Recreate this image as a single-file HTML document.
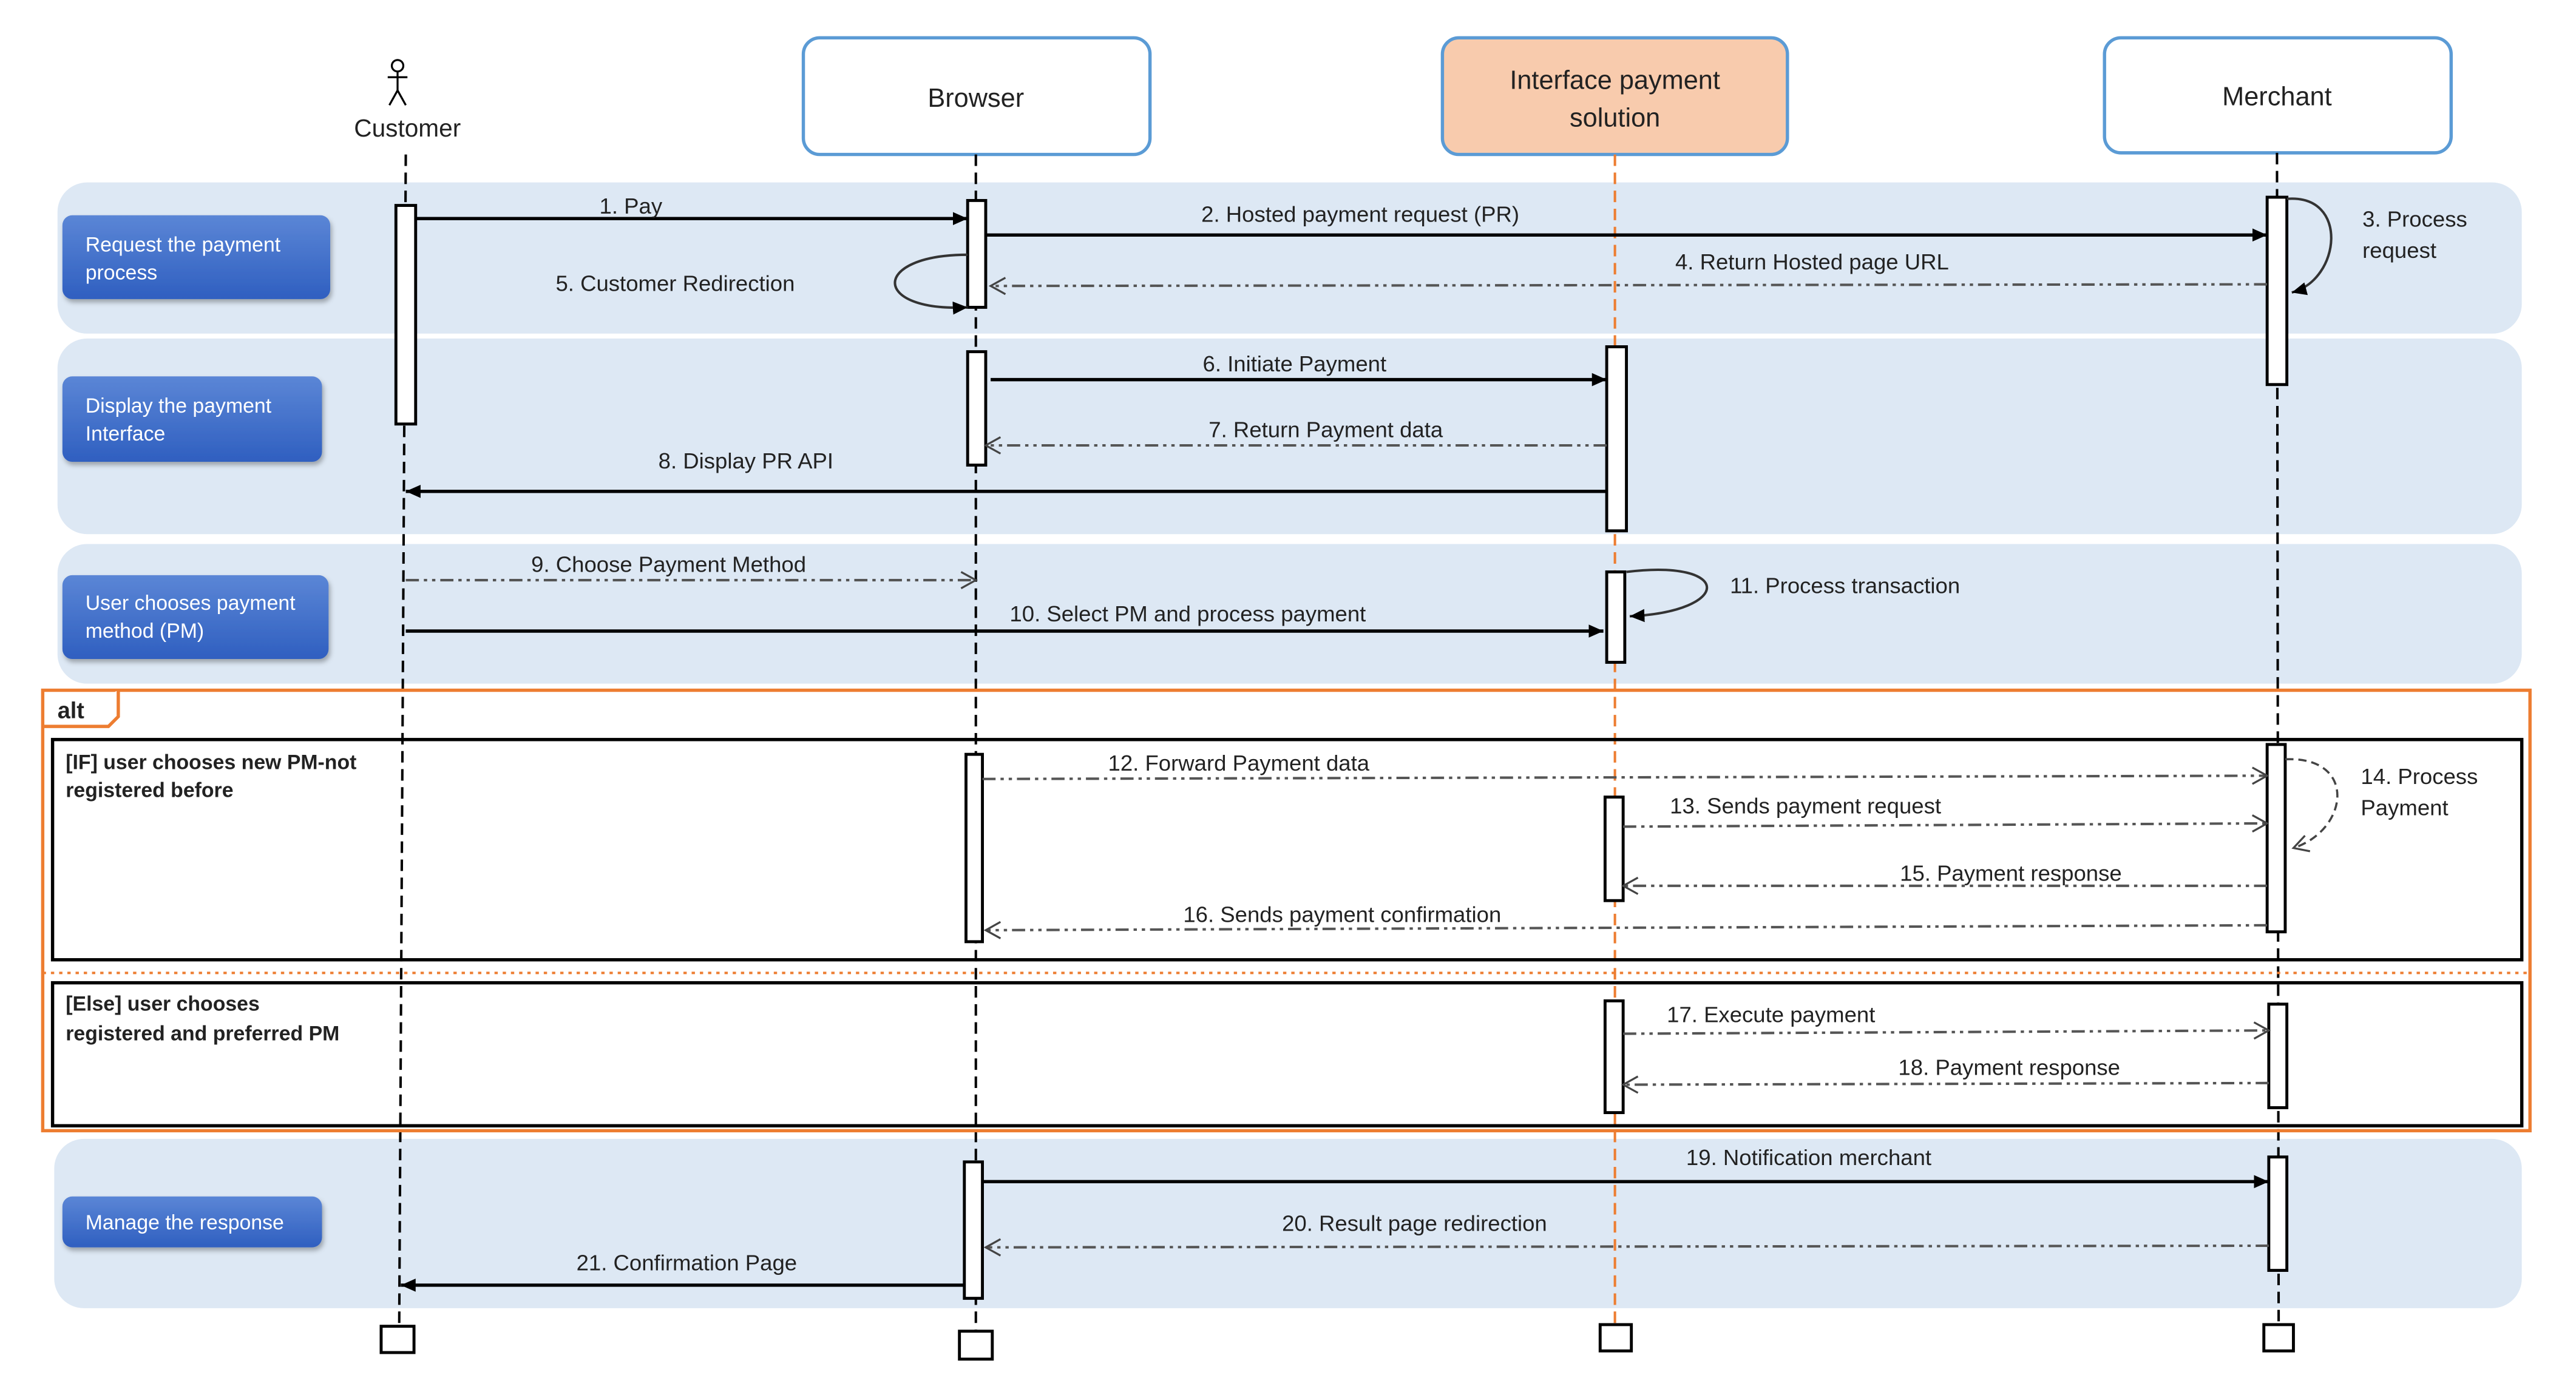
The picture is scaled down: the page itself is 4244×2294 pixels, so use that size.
<!DOCTYPE html>
<html><head><meta charset="utf-8"><style>
html,body{margin:0;padding:0;background:#fff;width:4244px;height:2294px;overflow:hidden}
svg{display:block}
text{font-family:"Liberation Sans",sans-serif;fill:#222}
</style></head><body>
<svg width="4244" height="2294" viewBox="0 0 1568 847" preserveAspectRatio="none" xmlns="http://www.w3.org/2000/svg">
<defs>
<marker id="fa" markerWidth="10" markerHeight="10" refX="9" refY="5" orient="auto" markerUnits="userSpaceOnUse"><path d="M0,1 L9,5 L0,9 z" fill="#000"/></marker>
<marker id="oa" markerWidth="12" markerHeight="12" refX="10" refY="6" orient="auto" markerUnits="userSpaceOnUse"><path d="M1,1 L10,6 L1,11" fill="none" stroke="#444" stroke-width="1.2"/></marker>
<linearGradient id="bg" x1="0" y1="0" x2="0" y2="1"><stop offset="0" stop-color="#5b86d6"/><stop offset="1" stop-color="#2f5fc0"/></linearGradient>
<filter id="sh" x="-10%" y="-10%" width="130%" height="140%"><feDropShadow dx="1" dy="2" stdDeviation="1.5" flood-color="#000" flood-opacity="0.3"/></filter>
</defs>
<g fill="#dde8f4">
<rect x="35" y="111" width="1500" height="92" rx="18"/>
<rect x="35" y="206" width="1500" height="119" rx="18"/>
<rect x="35" y="331" width="1500" height="85" rx="18"/>
<rect x="33" y="693" width="1502" height="103" rx="18"/>
</g>
<rect x="489" y="23" width="211" height="71" rx="10" fill="#fff" stroke="#5b9bd5" stroke-width="2"/>
<text x="594" y="65" font-size="16" text-anchor="middle">Browser</text>
<rect x="878" y="23" width="210" height="71" rx="10" fill="#f8cbad" stroke="#5b9bd5" stroke-width="2"/>
<text x="983" y="54" font-size="16" text-anchor="middle">Interface payment</text>
<text x="983" y="77" font-size="16" text-anchor="middle">solution</text>
<rect x="1281" y="23" width="211" height="70" rx="10" fill="#fff" stroke="#5b9bd5" stroke-width="2"/>
<text x="1386" y="64" font-size="16" text-anchor="middle">Merchant</text>
<g stroke="#000" stroke-width="1.2" fill="none">
<circle cx="242" cy="40" r="3.5"/><line x1="242" y1="43.5" x2="242" y2="55"/><line x1="236" y1="47" x2="248" y2="47"/><line x1="242" y1="55" x2="237" y2="64"/><line x1="242" y1="55" x2="247" y2="64"/>
</g>
<text x="248" y="83" font-size="15" text-anchor="middle">Customer</text>
<g stroke-width="1.5" stroke-dasharray="7,4">
<line x1="247" y1="94" x2="243" y2="807" stroke="#000"/>
<line x1="594" y1="94" x2="594" y2="810" stroke="#000"/>
<line x1="983" y1="94" x2="983" y2="806" stroke="#ed7d31"/>
<line x1="1386" y1="93" x2="1387" y2="806" stroke="#000"/>
</g>
<g filter="url(#sh)" fill="url(#bg)">
<rect x="38" y="131" width="163" height="51" rx="6"/>
<rect x="38" y="229" width="158" height="52" rx="6"/>
<rect x="38" y="350" width="162" height="51" rx="6"/>
<rect x="38" y="728" width="158" height="31" rx="6"/>
</g>
<g font-size="12.5">
<text x="52" y="153" style="fill:#fff">Request the payment</text><text x="52" y="170" style="fill:#fff">process</text>
<text x="52" y="251" style="fill:#fff">Display the payment</text><text x="52" y="268" style="fill:#fff">Interface</text>
<text x="52" y="371" style="fill:#fff">User chooses payment</text><text x="52" y="388" style="fill:#fff">method (PM)</text>
<text x="52" y="748" style="fill:#fff">Manage the response</text>
</g>
<rect x="26" y="420" width="1514" height="268" fill="none" stroke="#ed7d31" stroke-width="2"/>
<path d="M26,442 L66,442 L72,436 L72,420" fill="#fff" stroke="#ed7d31" stroke-width="2"/>
<text x="35" y="437" font-size="14" font-weight="bold">alt</text>
<rect x="32" y="450" width="1503" height="134" fill="none" stroke="#000" stroke-width="2"/>
<line x1="26" y1="592" x2="1540" y2="592" stroke="#ed7d31" stroke-width="1.5" stroke-dasharray="2,3"/>
<rect x="32" y="598" width="1503" height="87" fill="none" stroke="#000" stroke-width="2"/>
<g font-size="12.5" font-weight="bold">
<text x="40" y="468">[IF] user chooses new PM-not</text><text x="40" y="485">registered before</text>
<text x="40" y="615">[Else] user chooses</text><text x="40" y="633">registered and preferred PM</text>
</g>
<g fill="#fff" stroke="#000" stroke-width="1.8">
<rect x="241" y="125" width="12" height="133"/>
<rect x="589" y="122" width="11" height="65"/>
<rect x="589" y="214" width="11" height="69"/>
<rect x="978" y="211" width="12" height="112"/>
<rect x="978" y="348" width="11" height="55"/>
<rect x="1380" y="120" width="12" height="114"/>
<rect x="588" y="459" width="10" height="114"/>
<rect x="977" y="485" width="11" height="63"/>
<rect x="1380" y="453" width="11" height="114"/>
<rect x="977" y="609" width="11" height="68"/>
<rect x="1381" y="611" width="11" height="63"/>
<rect x="587" y="707" width="11" height="83"/>
<rect x="1381" y="704" width="11" height="69"/>
<rect x="232" y="807" width="20" height="16"/>
<rect x="584" y="810" width="20" height="17"/>
<rect x="974" y="806" width="19" height="16"/>
<rect x="1378" y="806" width="18" height="16"/>
</g>
<g stroke="#000" stroke-width="2" fill="none" marker-end="url(#fa)">
<line x1="253" y1="133" x2="589" y2="133"/>
<line x1="600" y1="143" x2="1380" y2="143"/>
<line x1="603" y1="231" x2="978" y2="231"/>
<line x1="978" y1="299" x2="247" y2="299"/>
<line x1="247" y1="384" x2="976" y2="384"/>
<line x1="598" y1="719" x2="1381" y2="719"/>
<line x1="587" y1="782" x2="244" y2="782"/>
</g>
<g stroke="#333" stroke-width="1.5" fill="none" marker-end="url(#fa)">
<path d="M1392,121 C1430,118 1425,170 1395,178"/>
<path d="M589,155 C530,155 530,190 589,187"/>
<path d="M990,348 C1055,340 1055,372 992,375"/>
</g>
<path d="M1391,462 C1435,460 1430,505 1396,516" stroke="#444" stroke-width="1.3" fill="none" stroke-dasharray="5,3" marker-end="url(#oa)"/>
<g stroke="#555" stroke-width="1.5" fill="none" stroke-dasharray="8,3,2,3,2,3" marker-end="url(#oa)">
<line x1="1380" y1="173" x2="603" y2="174"/>
<line x1="978" y1="271" x2="600" y2="271"/>
<line x1="247" y1="353" x2="594" y2="353"/>
<line x1="598" y1="474" x2="1380" y2="472"/>
<line x1="988" y1="503" x2="1380" y2="501"/>
<line x1="1380" y1="539" x2="988" y2="539"/>
<line x1="1380" y1="563" x2="600" y2="566"/>
<line x1="988" y1="629" x2="1381" y2="627"/>
<line x1="1381" y1="659" x2="988" y2="660"/>
<line x1="1381" y1="758" x2="600" y2="759"/>
</g>
<g font-size="13.5" text-anchor="middle">
<text x="384" y="130">1. Pay</text>
<text x="828" y="135">2. Hosted payment request (PR)</text>
<text x="1103" y="164">4. Return Hosted page URL</text>
<text x="411" y="177">5. Customer Redirection</text>
<text x="788" y="226">6. Initiate Payment</text>
<text x="807" y="266">7. Return Payment data</text>
<text x="454" y="285">8. Display PR API</text>
<text x="407" y="348">9. Choose Payment Method</text>
<text x="723" y="378">10. Select PM and process payment</text>
<text x="754" y="469">12. Forward Payment data</text>
<text x="1099" y="495">13. Sends payment request</text>
<text x="1224" y="536">15. Payment response</text>
<text x="817" y="561">16. Sends payment confirmation</text>
<text x="1078" y="622">17. Execute payment</text>
<text x="1223" y="654">18. Payment response</text>
<text x="1101" y="709">19. Notification merchant</text>
<text x="861" y="749">20. Result page redirection</text>
<text x="418" y="773">21. Confirmation Page</text>
</g>
<g font-size="13.5">
<text x="1438" y="138">3. Process</text><text x="1438" y="157">request</text>
<text x="1053" y="361">11. Process transaction</text>
<text x="1437" y="477">14. Process</text><text x="1437" y="496">Payment</text>
</g>
</svg>
</body></html>
